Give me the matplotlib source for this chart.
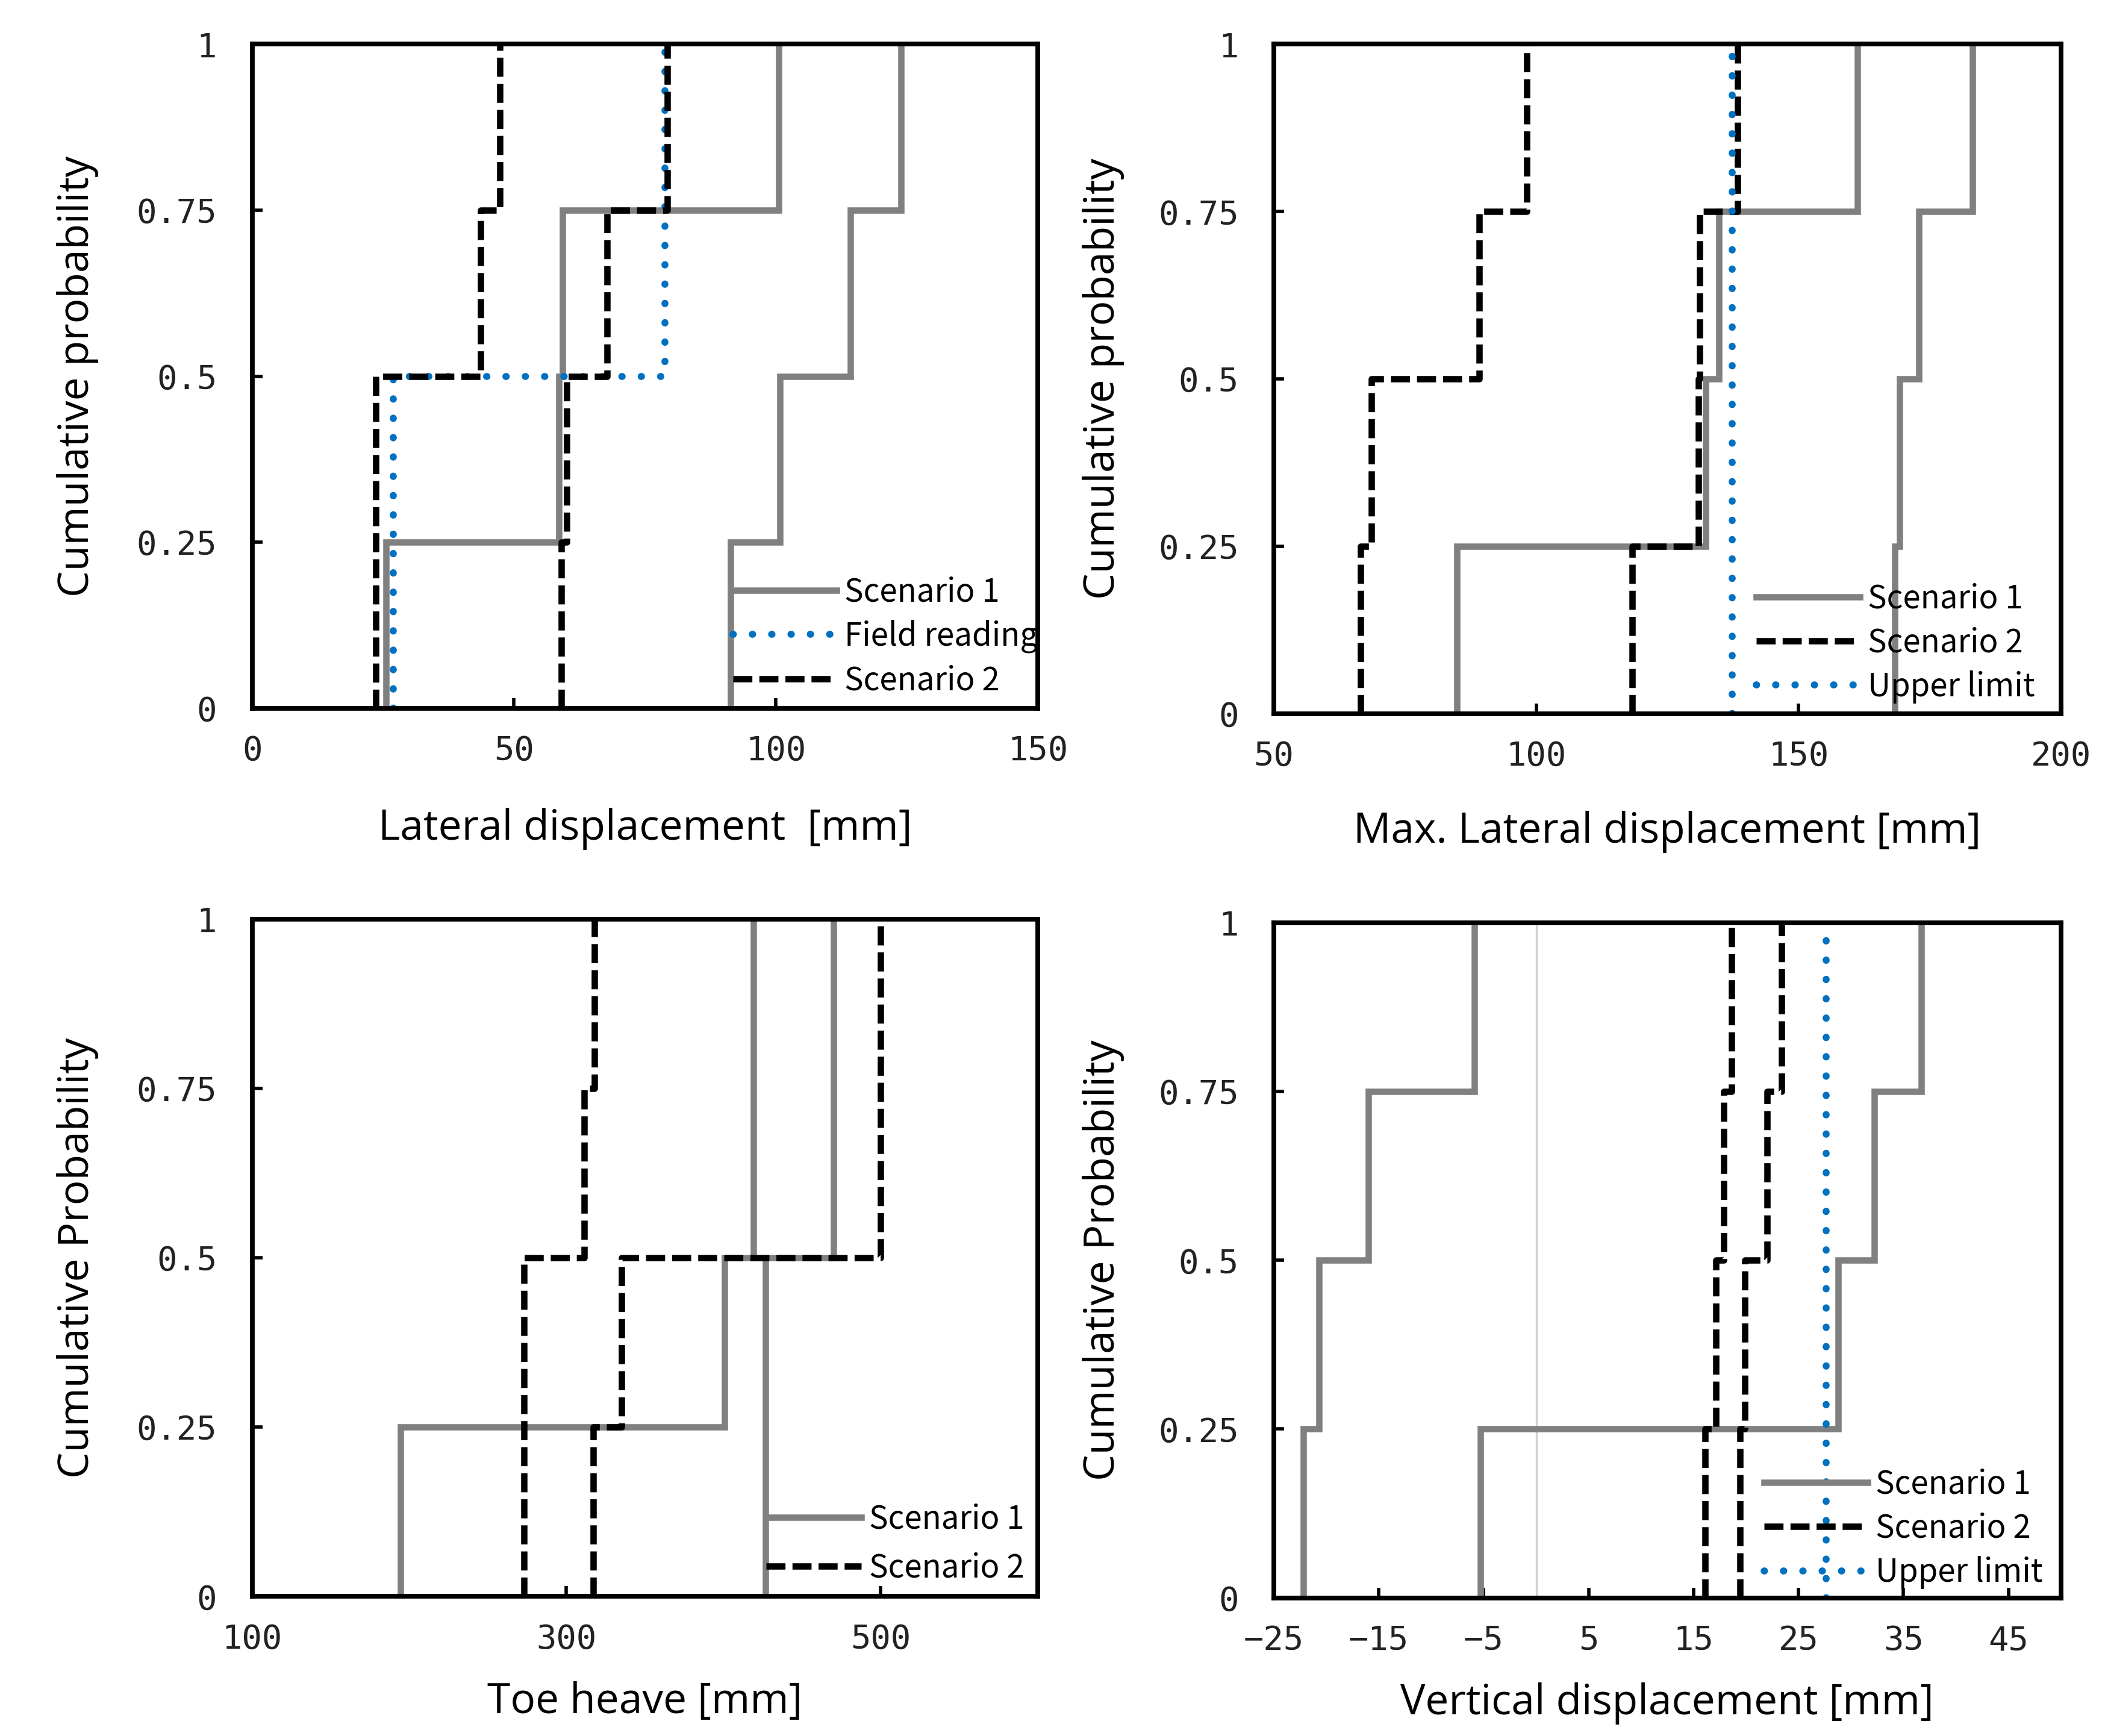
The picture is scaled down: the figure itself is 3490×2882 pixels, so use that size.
import numpy as np
import matplotlib
matplotlib.use("Agg")
import matplotlib.pyplot as plt

# cumulative probability levels shared by every curve
levels = [0, 0.25, 0.5, 0.75, 1]
ytick_labels = ["0", "0.25", "0.5", "0.75", "1"]

# (a) lateral displacement [mm]
lat_s1_a = [25.6, 58.6, 59.3, 100.5]
lat_s1_b = [91.4, 100.8, 114.2, 123.9]
lat_s2_a = [23.6, 23.6, 43.6, 47.3]
lat_s2_b = [59.0, 60.1, 67.8, 79.3]
lat_field = [27.0, 27.0, 78.8, 78.8]

# (b) max. lateral displacement [mm]
max_s1_a = [84.9, 132.3, 134.8, 161.2]
max_s1_b = [168.3, 169.3, 172.9, 183.2]
max_s2_a = [66.6, 68.6, 89.1, 98.2]
max_s2_b = [118.3, 130.9, 131.2, 138.4]
max_upper = 137.4

# (c) toe heave [mm]
toe_s1_a = [194.3, 400.8, 418.9, 418.9]
toe_s1_b = [426.7, 426.7, 470.1, 470.1]
toe_s2_a = [272.9, 272.9, 311.2, 318.0]
toe_s2_b = [317.0, 335.1, 500.0, 500.0]

# (d) vertical displacement [mm]
ver_s1_a = [-22.2, -20.7, -16.0, -5.9]
ver_s1_b = [-5.3, 28.8, 32.2, 36.7]
ver_s2_a = [16.1, 17.1, 17.9, 18.6]
ver_s2_b = [19.4, 19.9, 22.0, 23.4]
ver_upper = 27.6

GRAY = "#808080"
BLUE = "#0070C0"
TICKFONT = "DejaVu Sans Mono"
LEGFONT = "Noto Sans CJK JP"
LABFONT = "Open Sans"


def step_path(xs):
    px = np.repeat(xs, 2)
    py = np.repeat(levels, 2)[1:-1]
    return px, py


def s1(ax, xs, label=None):
    px, py = step_path(xs)
    ax.plot(px, py, color=GRAY, lw=3.8, label=label, solid_joinstyle="miter")


def s2(ax, xs, label=None):
    px, py = step_path(xs)
    ax.plot(px, py, color="black", lw=3.8, dashes=(3.0, 1.1), label=label)


def dotted(ax, xs=None, xv=None, label=None):
    kw = dict(color=BLUE, lw=4.2, dashes=(0.05, 2.7), dash_capstyle="round", label=label)
    if xs is not None:
        px, py = step_path(xs)
        ax.plot(px, py, **kw)
    else:
        ax.axvline(xv, **kw)


def style(ax, xlim, xticks, xlabel, ylabel, xlab_y, ylab_x):
    ax.set_xlim(*xlim)
    ax.set_ylim(0, 1)
    ax.set_xticks(xticks)
    ax.set_yticks(levels)
    ax.set_yticklabels(ytick_labels)
    for s in ax.spines.values():
        s.set_linewidth(2.8)
    ax.tick_params(direction="in", length=6, width=2, labelsize=20, labelcolor="#222222")
    ax.tick_params(axis="y", pad=21)
    ax.tick_params(axis="x", pad=16)
    for t in ax.get_xticklabels() + ax.get_yticklabels():
        t.set_fontfamily(TICKFONT)
    ax.set_xlabel(xlabel, fontsize=25, fontfamily=LABFONT)
    ax.set_ylabel(ylabel, fontsize=25, fontfamily=LABFONT)
    ax.xaxis.set_label_coords(0.5, xlab_y)
    ax.yaxis.set_label_coords(ylab_x, 0.5)


def legend(ax, anchor, hl=3.25, ls=0.35):
    ax.legend(loc="center left", bbox_to_anchor=anchor, frameon=False,
              handlelength=hl, handletextpad=0.25, labelspacing=ls,
              borderpad=0, borderaxespad=0,
              prop={"family": LEGFONT, "size": 19})


fig = plt.figure(figsize=(17.455, 14.41), dpi=200)
ax1 = fig.add_axes([0.1199, 0.5921, 0.3737, 0.3824])
ax2 = fig.add_axes([0.6058, 0.5889, 0.3744, 0.3856])
ax3 = fig.add_axes([0.1199, 0.0804, 0.3737, 0.3902])
ax4 = fig.add_axes([0.6058, 0.0796, 0.3744, 0.3888])

# (a)
s1(ax1, lat_s1_a, "Scenario 1")
s1(ax1, lat_s1_b)
dotted(ax1, xs=lat_field, label="Field reading")
s2(ax1, lat_s2_a, "Scenario 2")
s2(ax1, lat_s2_b)
style(ax1, (0, 150), [0, 50, 100, 150], "Lateral displacement  [mm]",
      "Cumulative probability", -0.15, -0.195)
legend(ax1, (0.612, 0.108))

# (b)
s1(ax2, max_s1_a, "Scenario 1")
s1(ax2, max_s1_b)
s2(ax2, max_s2_a, "Scenario 2")
s2(ax2, max_s2_b)
dotted(ax2, xv=max_upper, label="Upper limit")
style(ax2, (50, 200), [50, 100, 150, 200], "Max. Lateral displacement [mm]",
      "Cumulative probability", -0.145, -0.19)
legend(ax2, (0.613, 0.106))

# (c)
s1(ax3, toe_s1_a, "Scenario 1")
s1(ax3, toe_s1_b)
s2(ax3, toe_s2_a, "Scenario 2")
s2(ax3, toe_s2_b)
style(ax3, (100, 600), [100, 300, 500], "Toe heave [mm]",
      "Cumulative Probability", -0.125, -0.195)
legend(ax3, (0.654, 0.078), hl=3.0, ls=0.5)

# (d)
ax4.axvline(0, color="#D0D0D0", lw=1.2, zorder=0)
s1(ax4, ver_s1_a, "Scenario 1")
s1(ax4, ver_s1_b)
s2(ax4, ver_s2_a, "Scenario 2")
s2(ax4, ver_s2_b)
dotted(ax4, xv=ver_upper, label="Upper limit")
style(ax4, (-25, 50), [-25, -15, -5, 5, 15, 25, 35, 45], "Vertical displacement [mm]",
      "Cumulative Probability", -0.125, -0.19)
legend(ax4, (0.623, 0.103))

fig.savefig("out.png", dpi=200)
